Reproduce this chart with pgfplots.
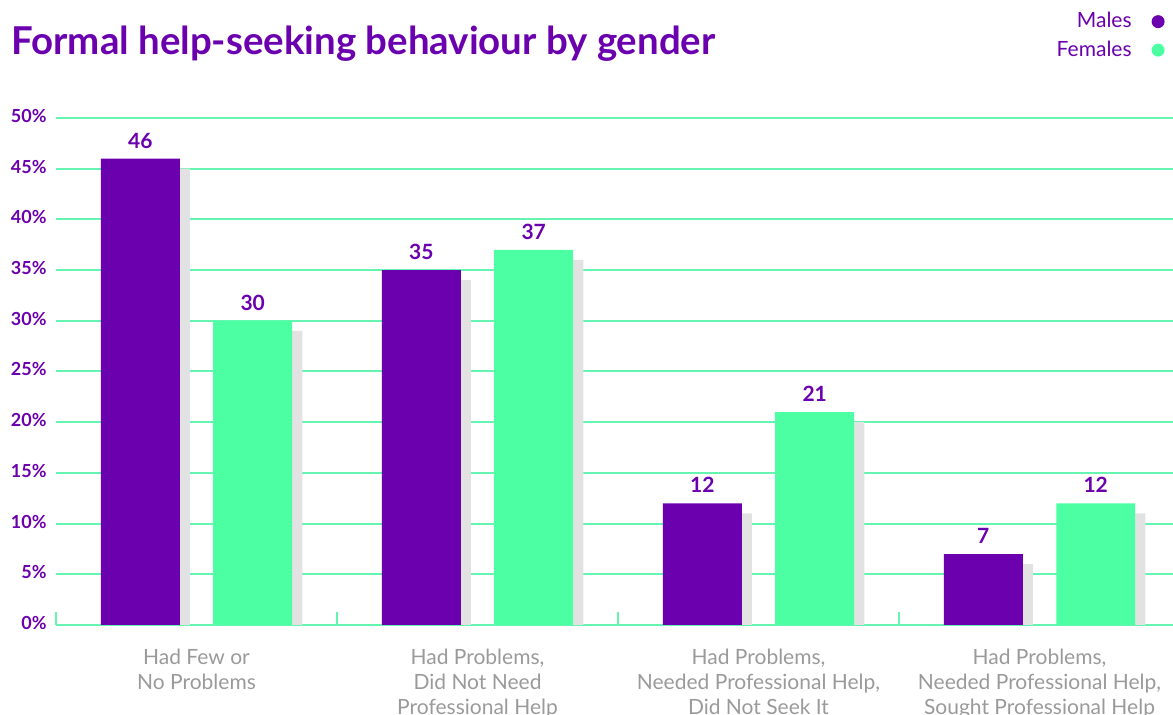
\documentclass[border=0pt]{standalone}
\usepackage{pgfplots}
\pgfplotsset{compat=1.18}
\usepackage{fontspec}
\setmainfont{Lato}
\definecolor{purp}{HTML}{6B00AE}
\definecolor{mint}{HTML}{4CFFA3}
\definecolor{gridg}{HTML}{66F5B0}
\definecolor{shad}{HTML}{E2E2E2}
\definecolor{lab}{HTML}{9A9A9A}

\begin{document}
\begin{tikzpicture}
\useasboundingbox (0,0) rectangle (586.5pt,357.5pt);
\node[anchor=base west, inner sep=0pt, text=purp, font=\bfseries\fontsize{19.2}{19.2}\selectfont] at (5.5pt,330pt) {Formal help-seeking behaviour by gender};
\begin{axis}[
    at={(28pt,45pt)}, anchor=south west,
    scale only axis,
    width=558.5pt, height=253.5pt,
    xmin=-0.5, xmax=3.475,
    ymin=0, ymax=50,
    axis x line*=bottom, axis y line*=left,
    x axis line style={gridg, line width=1pt, -},
    y axis line style={draw=none},
    ymajorgrids,
    grid style={gridg, line width=1pt},
    ytick={0,5,...,50},
    ytick style={draw=none},
    /pgf/number format/assume math mode=true,
    yticklabel={\pgfmathprintnumber{\tick}\%},
    yticklabel style={text=purp, font=\bfseries\fontsize{9}{9}\selectfont, inner sep=0pt, xshift=-4.5pt, yshift=1pt},
    xtick={0,1,2,3},
    minor xtick={-0.5,0.5,1.5,2.5},
    xtick pos=bottom,
    tick align=inside,
    major tick length=0pt,
    minor tick length=6.5pt,
    minor x tick style={gridg, line width=1pt},
    xticklabels={{Had Few or\\No Problems},{Had Problems,\\Did Not Need\\Professional Help},{Had Problems,\\Needed Professional Help,\\Did Not Seek It},{Had Problems,\\Needed Professional Help,\\Sought Professional Help}},
    xticklabel style={align=center, text=lab, font=\fontsize{10.5}{12.5}\selectfont, yshift=-8.5pt},
    every node near coord/.append style={text=purp, font=\bfseries\fontsize{10.5}{10.5}\selectfont, anchor=center, yshift=9pt},
    legend plot pos=right,
    legend cell align=right,
    legend image code/.code={\fill[#1] (0pt,0pt) circle (3.25pt);},
    legend style={draw=none, fill=none, at={(rel axis cs:1,1)}, anchor=north east, xshift=-1pt, yshift=57pt, text=purp, font=\fontsize{10.5}{10.5}\selectfont, row sep=1pt, column sep=8pt},
]
% shadows (one point lower, shifted right)
\addplot[ybar, bar width=0.281, bar shift=0, fill=shad, draw=none, forget plot] coordinates {(-0.164,45) (0.836,34) (1.836,11) (2.836,6)};
\addplot[ybar, bar width=0.281, bar shift=0, fill=shad, draw=none, forget plot] coordinates {(0.236,29) (1.236,36) (2.236,20) (3.236,11)};
% main bars
\addplot[ybar, bar width=0.281, bar shift=0, fill=purp, draw=none, nodes near coords] coordinates {(-0.2,46) (0.8,35) (1.8,12) (2.8,7)};
\addplot[ybar, bar width=0.281, bar shift=0, fill=mint, draw=none, nodes near coords] coordinates {(0.2,30) (1.2,37) (2.2,21) (3.2,12)};
\legend{Males, Females}
\end{axis}
\end{tikzpicture}
\end{document}
